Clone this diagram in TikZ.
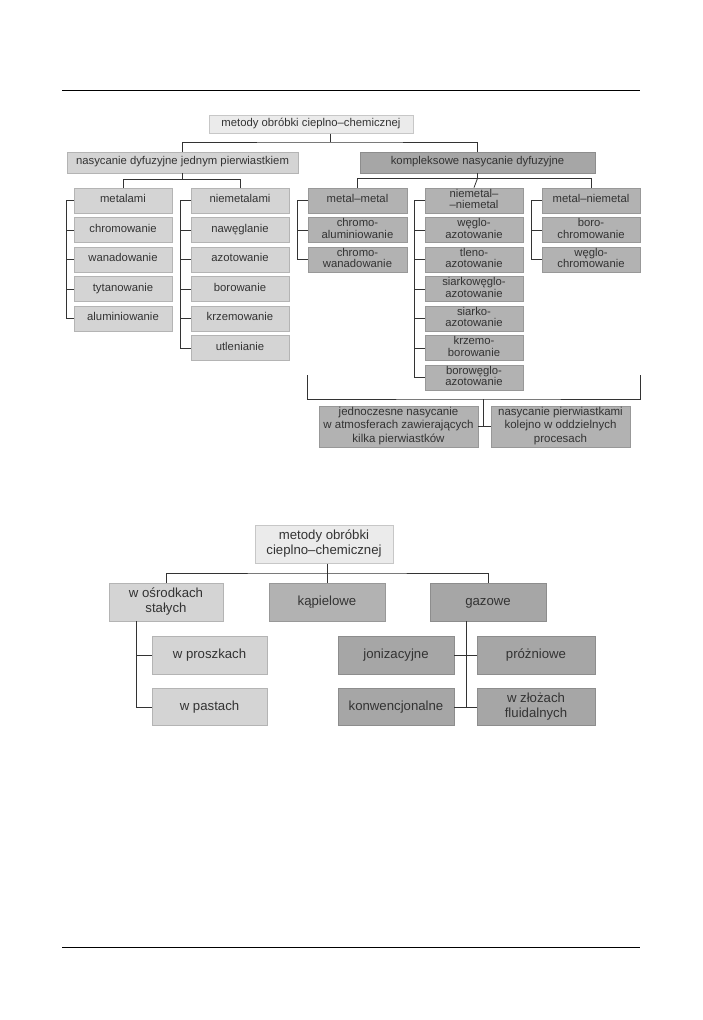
\documentclass[tikz,border=0pt]{standalone}
\usepackage{fontspec}
\setmainfont{Liberation Sans}
\colorlet{paleG}{black!8}
\colorlet{lightG}{black!17}
\colorlet{midG}{black!30}
\colorlet{darkG}{black!35}
\begin{document}
\begin{tikzpicture}[x=1pt,y=-1pt,
  box/.style={fill=#1,draw=#1!85!black,line width=0.7pt,text=black!80,inner sep=0pt,align=center,
    execute at begin node=\strut,execute at end node=\strut},
  col/.style={box=#1,minimum width=98pt,minimum height=25pt,font=\fontsize{11.3}{11.5}\selectfont},
  low/.style={box=#1,minimum width=115pt,minimum height=37.5pt,font=\fontsize{13.2}{15}\selectfont},
  link/.style={draw=black!80,line width=0.8pt}]
  \useasboundingbox (0,0) rectangle (702,1020);
  % page rules
  \draw[line width=0.8pt] (62,90) -- (640,90);
  \draw[line width=0.8pt] (62,947) -- (640,947);

  % upper tree
  \node[box=paleG,minimum width=204pt,minimum height=17.5pt,font=\fontsize{11.3}{11.5}\selectfont] (top1) at (311,124.5) {metody obróbki cieplno–chemicznej};
  \node[box=lightG,minimum width=231pt,minimum height=21pt,font=\fontsize{11.3}{11.5}\selectfont] (jednym) at (182.5,162.5) {nasycanie dyfuzyjne jednym pierwiastkiem};
  \node[box=darkG,minimum width=235pt,minimum height=21pt,font=\fontsize{11.3}{11.5}\selectfont] (komplek) at (477.5,162.5) {kompleksowe nasycanie dyfuzyjne};

  \node[col=lightG] (met0) at (123,200.5) {metalami};
  \node[col=lightG] (met1) at (123,230) {chromowanie};
  \node[col=lightG] (met2) at (123,259.5) {wanadowanie};
  \node[col=lightG] (met3) at (123,289) {tytanowanie};
  \node[col=lightG] (met4) at (123,318.5) {aluminiowanie};

  \node[col=lightG] (niem0) at (240,200.5) {niemetalami};
  \node[col=lightG] (niem1) at (240,230) {nawęglanie};
  \node[col=lightG] (niem2) at (240,259.5) {azotowanie};
  \node[col=lightG] (niem3) at (240,289) {borowanie};
  \node[col=lightG] (niem4) at (240,318.5) {krzemowanie};
  \node[col=lightG] (niem5) at (240,348) {utlenianie};

  \node[col=midG,minimum width=99pt] (mm0) at (357.5,200.5) {metal–metal};
  \node[col=midG,minimum width=99pt] (mm1) at (357.5,230) {chromo-\\aluminiowanie};
  \node[col=midG,minimum width=99pt] (mm2) at (357.5,259.5) {chromo-\\wanadowanie};

  \node[col=midG] (nn0) at (474,200.5) {niemetal–\\–niemetal};
  \node[col=midG] (nn1) at (474,230) {węglo-\\azotowanie};
  \node[col=midG] (nn2) at (474,259.5) {tleno-\\azotowanie};
  \node[col=midG] (nn3) at (474,289) {siarkowęglo-\\azotowanie};
  \node[col=midG] (nn4) at (474,318.5) {siarko-\\azotowanie};
  \node[col=midG] (nn5) at (474,348) {krzemo-\\borowanie};
  \node[col=midG] (nn6) at (474,377.5) {borowęglo-\\azotowanie};

  \node[col=midG] (mn0) at (591,200.5) {metal–niemetal};
  \node[col=midG] (mn1) at (591,230) {boro-\\chromowanie};
  \node[col=midG] (mn2) at (591,259.5) {węglo-\\chromowanie};

  \node[col=midG,minimum width=159pt,minimum height=41pt,font=\fontsize{11.5}{13.5}\selectfont] (jedn) at (398.5,426.5) {jednoczesne nasycanie\\w atmosferach zawierających\\kilka pierwiastków};
  \node[col=midG,minimum width=139pt,minimum height=41pt,font=\fontsize{11.5}{13.5}\selectfont] (kolejno) at (560.5,426.5) {nasycanie pierwiastkami\\kolejno w oddzielnych\\procesach};

  \coordinate (t1) at (330,142);
  \draw[link] (top1.south -| t1) -- (t1);
  \draw[link] (jednym.north) |- (t1) -| (komplek.north);
  \draw[link] (jednym.south) -- ++(0,6) coordinate (j1);
  \draw[link] (met0.north) |- (j1) -| (niem0.north);
  \draw[link] (komplek.south) -- ++(0,5) coordinate (k1);
  \draw[link] (mm0.north) |- (k1) -| (mn0.north);
  \draw[link] (k1) -- (nn0.north);

  \draw[link] (met0.west) -- ++(-7,0) |- (met4.west)
    (met1.west) -- ++(-7,0) (met2.west) -- ++(-7,0) (met3.west) -- ++(-7,0);
  \draw[link] (niem0.west) -- ++(-10,0) |- (niem5.west)
    (niem1.west) -- ++(-10,0) (niem2.west) -- ++(-10,0)
    (niem3.west) -- ++(-10,0) (niem4.west) -- ++(-10,0);
  \draw[link] (mm0.west) -- ++(-10,0) |- (mm2.west) (mm1.west) -- ++(-10,0);
  \draw[link] (nn0.west) -- ++(-10,0) |- (nn6.west)
    (nn1.west) -- ++(-10,0) (nn2.west) -- ++(-10,0) (nn3.west) -- ++(-10,0)
    (nn4.west) -- ++(-10,0) (nn5.west) -- ++(-10,0);
  \draw[link] (mn0.west) -- ++(-10,0) |- (mn2.west) (mn1.west) -- ++(-10,0);

  % bracket under the complex methods
  \coordinate (bl) at (307,375);
  \coordinate (br) at (640,375);
  \coordinate (b0) at (483,399);
  \draw[link] (bl) |- (b0) -| (br);
  \draw[link] (b0) -- (b0 |- jedn.east);
  \draw[link] (jedn.east) -- (kolejno.west);

  % lower tree
  \node[low=paleG,minimum width=138pt] (top2) at (324,544.5) {metody obróbki\\cieplno–chemicznej};
  \node[low=lightG,minimum width=114pt,minimum height=38pt] (stale) at (166,602) {w ośrodkach\\stałych};
  \node[low=midG,minimum width=116pt,minimum height=38pt] (kapiel) at (327,602) {kąpielowe};
  \node[low=darkG,minimum width=116pt,minimum height=38pt] (gazowe) at (488,602) {gazowe};

  \node[low=lightG] (proszki) at (209.5,655.5) {w proszkach};
  \node[low=lightG] (pasty) at (209.5,707) {w pastach};
  \node[low=darkG,minimum width=116pt] (joniz) at (396,655.5) {jonizacyjne};
  \node[low=darkG,minimum width=116pt] (konw) at (396,707) {konwencjonalne};
  \node[low=darkG,minimum width=118pt] (prozn) at (536,655.5) {próżniowe};
  \node[low=darkG,minimum width=118pt] (fluid) at (536,707) {w złożach\\fluidalnych};

  \coordinate (g1) at (327,573);
  \draw[link] (top2.south -| g1) -- (g1);
  \draw[link] (stale.north) |- (g1) -| (gazowe.north);
  \draw[link] (g1) -- (kapiel.north);
  \draw[link] ([xshift=-30pt]stale.south) |- (pasty.west);
  \draw[link] (proszki.west) -- ++(-16,0);
  \draw[link] ([xshift=-22pt]gazowe.south) -- ([xshift=-22pt]gazowe.south |- konw.east);
  \draw[link] (joniz.east) -- (prozn.west);
  \draw[link] (konw.east) -- (fluid.west);
\end{tikzpicture}
\end{document}
